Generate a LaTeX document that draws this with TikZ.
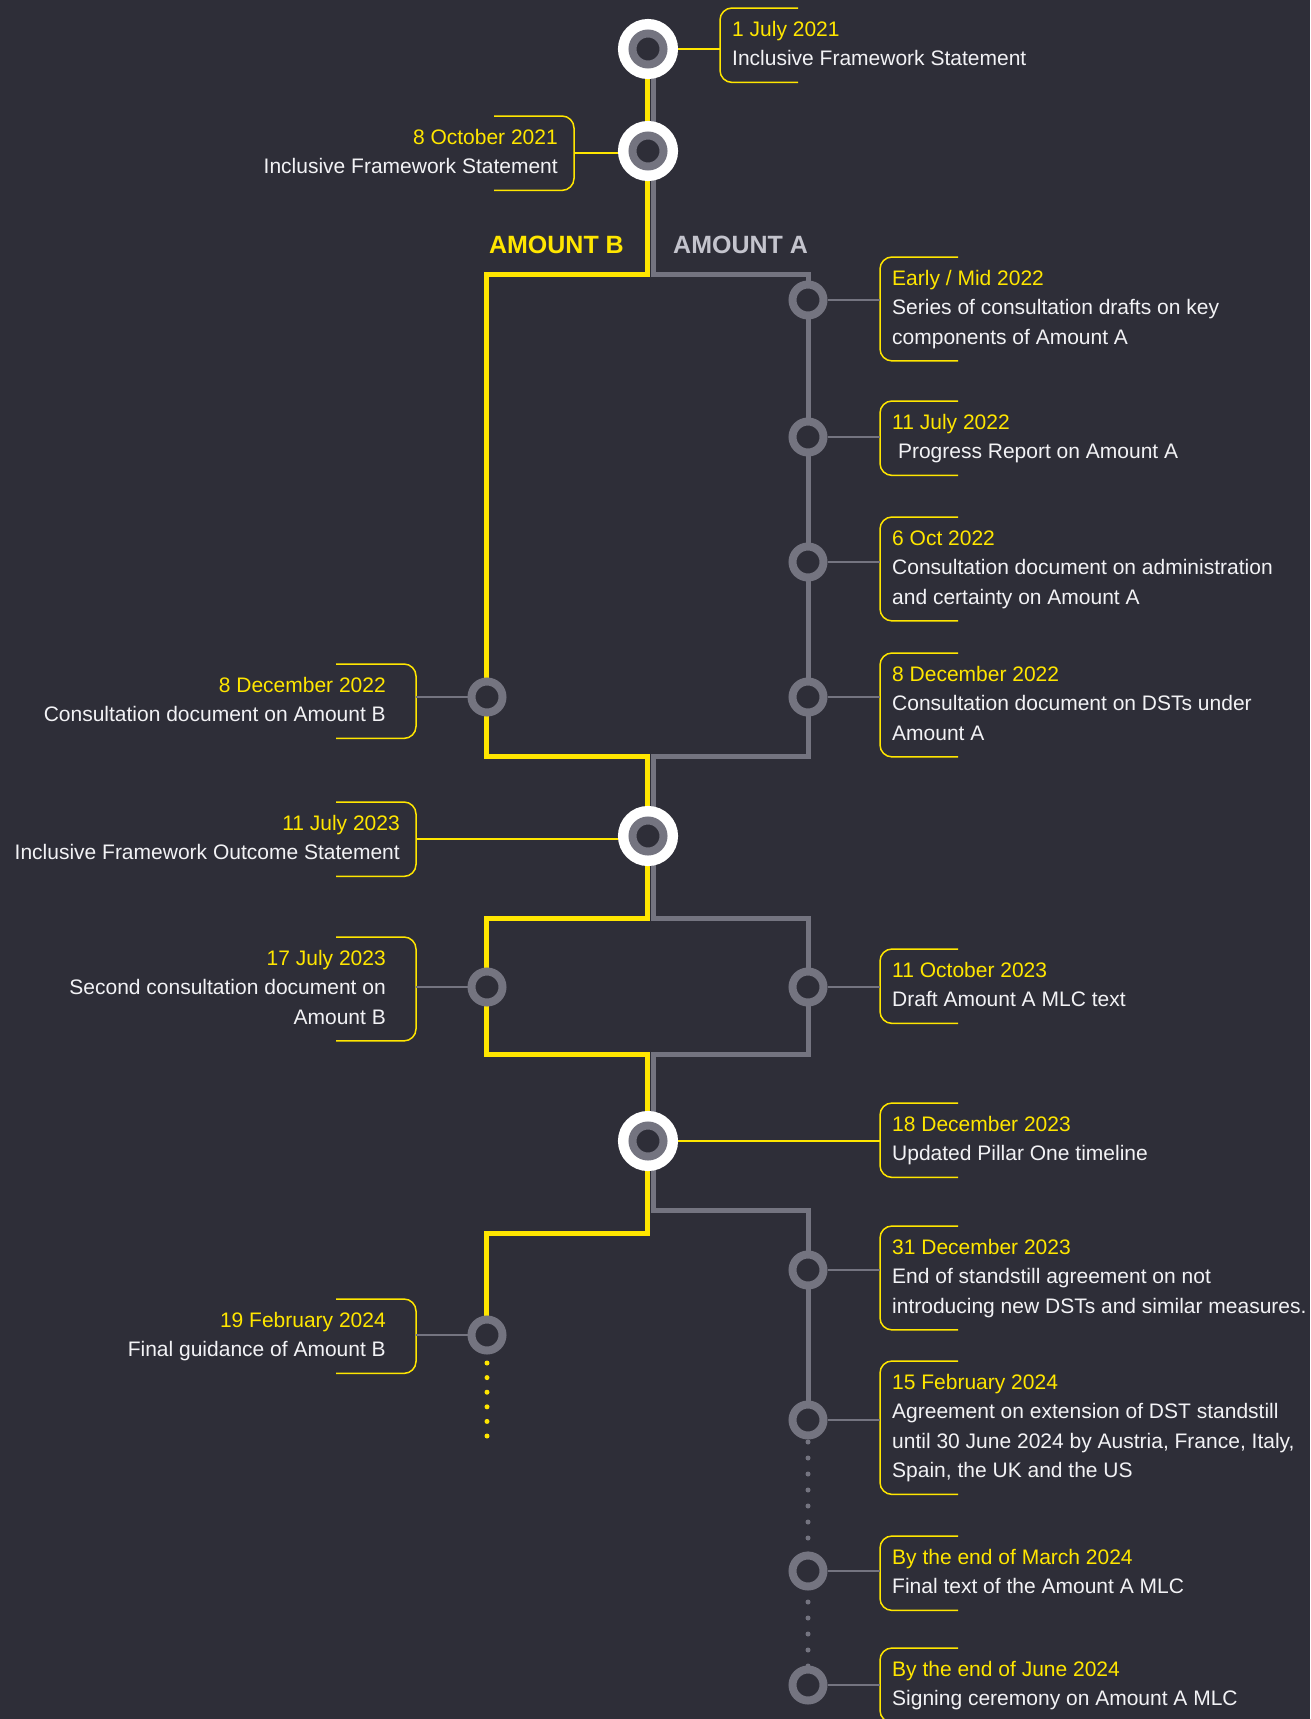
\documentclass[tikz,border=0pt]{standalone}
\usepackage{fontspec}
\setmainfont{Liberation Sans}
\usepackage{xcolor}
\usepackage{tikz}

\definecolor{eybg}{HTML}{2E2E38}
\definecolor{eyyellow}{HTML}{FFE600}
\definecolor{eygray}{HTML}{747480}
\definecolor{eylight}{HTML}{C4C4CD}
\definecolor{eytext}{HTML}{F2F2F5}

\newcommand{\evdate}[1]{\textcolor{eyyellow}{\strut#1}}

\begin{document}
\begin{tikzpicture}[
    x=1pt, y=-1pt,
    font=\fontsize{21}{29.5}\selectfont,
    ev/.style={circle, draw=eygray, line width=8pt, fill=eybg,
               minimum size=31pt, inner sep=0pt},
    key/.style={ev, preaction={draw=white, line width=29pt}},
    evR/.style={anchor=north west, align=left, text=eytext,
                inner xsep=12pt, inner ysep=7.5pt,
                execute at end node=\strut},
    evL/.style={evR, anchor=north east, align=right, inner xsep=#1},
    evL/.default=30pt,
    brk/.style={draw=eyyellow, line width=1.5pt, rounded corners=12pt},
    tie/.style={line width=1.5pt, eygray},
    tieY/.style={line width=1.5pt, eyyellow},
    track/.style={line width=5pt, line join=miter},
    dots/.style={line width=5pt, line cap=round, dash pattern=on 0pt off #1},
    head/.style={font=\fontsize{25}{30}\selectfont\bfseries, inner sep=0pt},
  ]

  % Canvas
  \useasboundingbox (0,0) rectangle (1310,1719);
  \fill[eybg] (0,0) rectangle (1310,1719);

  % Tracks: Amount B (yellow) and Amount A (grey)
  \draw[track, eygray] (653,49) -- (653,274) -- (808,274) -- (808,756)
    -- (653,756) -- (653,918) -- (808,918) -- (808,1054) -- (653,1054)
    -- (653,1210) -- (808,1210) -- (808,1420);
  \draw[track, eyyellow] (647.5,49) -- (647.5,274) -- (486,274) -- (486,756)
    -- (647.5,756) -- (647.5,918) -- (486,918) -- (486,1054) -- (647.5,1054)
    -- (647.5,1233) -- (486,1233) -- (486,1335);

  % Track headings
  \node[head, text=eyyellow, anchor=base east] (hB) at (624,253) {AMOUNT B};
  \node[head, text=eylight, anchor=base west] (hA) at (673,253) {AMOUNT A};

  % Milestones on the shared trunk
  \coordinate (k1) at (648,49);
  \coordinate (k2) at (648,151);
  \coordinate (k3) at (648,836);
  \coordinate (k4) at (648,1141);

  % Labels, right side
  \node[evR] (r0) at (720,8)
    {\evdate{1 July 2021}\\Inclusive Framework Statement};
  \node[evR] (r1) at (880,257)
    {\evdate{Early / Mid 2022}\\Series of consultation drafts on key\\components of Amount A};
  \node[evR] (r2) at (880,401)
    {\evdate{11 July 2022}\\\ Progress Report on Amount A};
  \node[evR] (r3) at (880,517)
    {\evdate{6 Oct 2022}\\Consultation document on administration\\and certainty on Amount A};
  \node[evR] (r4) at (880,653)
    {\evdate{8 December 2022}\\Consultation document on DSTs under\\Amount A};
  \node[evR] (r5) at (880,949)
    {\evdate{11 October 2023}\\Draft Amount A MLC text};
  \node[evR] (r6) at (880,1103)
    {\evdate{18 December 2023}\\Updated Pillar One timeline};
  \node[evR] (r7) at (880,1226)
    {\evdate{31 December 2023}\\End of standstill agreement on not\\introducing new DSTs and similar measures.};
  \node[evR] (r8) at (880,1361)
    {\evdate{15 February 2024}\\Agreement on extension of DST standstill\\until 30 June 2024 by Austria, France, Italy,\\Spain, the UK and the US};
  \node[evR] (r9) at (880,1536)
    {\evdate{By the end of March 2024}\\Final text of the Amount A MLC};
  \node[evR] (r10) at (880,1648)
    {\evdate{By the end of June 2024}\\Signing ceremony on Amount A MLC};

  % Labels, left side
  \node[evL=16pt] (l1) at (574,116)
    {\evdate{8 October 2021}\\Inclusive Framework Statement};
  \node[evL] (l2) at (416,664)
    {\evdate{8 December 2022}\\Consultation document on Amount B};
  \node[evL=16pt] (l3) at (416,802)
    {\evdate{11 July 2023}\\Inclusive Framework Outcome Statement};
  \node[evL] (l4) at (416,937)
    {\evdate{17 July 2023}\\Second consultation document on\\Amount B};
  \node[evL] (l5) at (416,1299)
    {\evdate{19 February 2024}\\Final guidance of Amount B};

  % Brackets
  \draw[brk] ([xshift=78]r0.north west) -| (r0.west) |- ([xshift=78]r0.south west);
  \draw[brk] ([xshift=78]r1.north west) -| (r1.west) |- ([xshift=78]r1.south west);
  \draw[brk] ([xshift=78]r2.north west) -| (r2.west) |- ([xshift=78]r2.south west);
  \draw[brk] ([xshift=78]r3.north west) -| (r3.west) |- ([xshift=78]r3.south west);
  \draw[brk] ([xshift=78]r4.north west) -| (r4.west) |- ([xshift=78]r4.south west);
  \draw[brk] ([xshift=78]r5.north west) -| (r5.west) |- ([xshift=78]r5.south west);
  \draw[brk] ([xshift=78]r6.north west) -| (r6.west) |- ([xshift=78]r6.south west);
  \draw[brk] ([xshift=78]r7.north west) -| (r7.west) |- ([xshift=78]r7.south west);
  \draw[brk] ([xshift=78]r8.north west) -| (r8.west) |- ([xshift=78]r8.south west);
  \draw[brk] ([xshift=78]r9.north west) -| (r9.west) |- ([xshift=78]r9.south west);
  \draw[brk] ([xshift=78]r10.north west) -| (r10.west) |- ([xshift=78]r10.south west);
  \draw[brk] ([xshift=-80]l1.north east) -| (l1.east) |- ([xshift=-80]l1.south east);
  \draw[brk] ([xshift=-80]l2.north east) -| (l2.east) |- ([xshift=-80]l2.south east);
  \draw[brk] ([xshift=-80]l3.north east) -| (l3.east) |- ([xshift=-80]l3.south east);
  \draw[brk] ([xshift=-80]l4.north east) -| (l4.east) |- ([xshift=-80]l4.south east);
  \draw[brk] ([xshift=-80]l5.north east) -| (l5.east) |- ([xshift=-80]l5.south east);

  % Dotted continuations
  \coordinate (bEnd) at (487,1437);
  \draw[dots=14.6pt, eyyellow, dash phase=1.2pt] (487,1335) -- (bEnd);
  \draw[dots=16pt, eygray, dash phase=10pt] (808,1420) -- (808,1685);

  % Connectors
  \draw[tieY] (k1) -- (k1 -| r0.west);
  \draw[tieY] (l1.east) -- (l1.east -| k2);
  \draw[tieY] (l3.east) -- (l3.east -| k3);
  \draw[tieY] (k4) -- (k4 -| r6.west);

  % Milestone circles
  \node[key] (m1) at (k1) {};
  \node[key] (m2) at (k2) {};
  \node[key] (m3) at (k3) {};
  \node[key] (m4) at (k4) {};

  \node[ev] (a1) at (808,300) {};
  \node[ev] (a2) at (808,437) {};
  \node[ev] (a3) at (808,562) {};
  \node[ev] (a4) at (808,697) {};
  \node[ev] (a5) at (808,987) {};
  \node[ev] (a6) at (808,1270) {};
  \node[ev] (a7) at (808,1420) {};
  \node[ev] (a8) at (808,1571) {};
  \node[ev] (a9) at (808,1685) {};

  \node[ev] (b1) at (487,697) {};
  \node[ev] (b2) at (487,987) {};
  \node[ev] (b3) at (487,1335) {};

  % Grey connectors
  \draw[tie] (a1) -- (a1 -| r1.west);
  \draw[tie] (a2) -- (a2 -| r2.west);
  \draw[tie] (a3) -- (a3 -| r3.west);
  \draw[tie] (a4) -- (a4 -| r4.west);
  \draw[tie] (a5) -- (a5 -| r5.west);
  \draw[tie] (a6) -- (a6 -| r7.west);
  \draw[tie] (a7) -- (a7 -| r8.west);
  \draw[tie] (a8) -- (a8 -| r9.west);
  \draw[tie] (a9) -- (a9 -| r10.west);
  \draw[tie] (b1) -- (b1 -| l2.east);
  \draw[tie] (b2) -- (b2 -| l4.east);
  \draw[tie] (b3) -- (b3 -| l5.east);

\end{tikzpicture}
\end{document}
